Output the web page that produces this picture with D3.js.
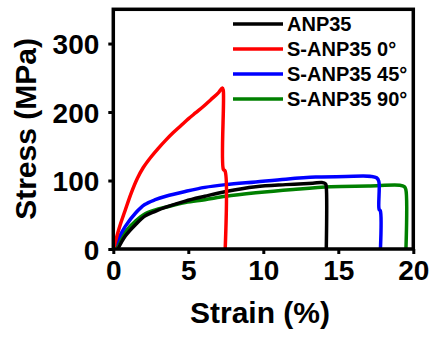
<!DOCTYPE html>
<html><head><meta charset="utf-8">
<script src="https://cdn.jsdelivr.net/npm/d3@7"></script>
<style>body{margin:0;background:#fff}svg{display:block}text{font-family:Arial,"Liberation Sans",sans-serif;font-weight:bold;fill:#000}</style>
</head><body><svg id="c" width="432" height="338"></svg>
<script>
const seriesNames = ["ANP35", "S-ANP35 0°", "S-ANP35 45°", "S-ANP35 90°"];
const seriesColors = ["#000000", "#ff0000", "#0000ff", "#008000"];
const xTicks = [0, 5, 10, 15, 20];
const yTicks = [0, 100, 200, 300];
// ANP35
const strainA = [0.3, 0.8, 1.5, 2.1, 2.8, 3.5, 4.8, 6.1, 7.5, 9.5, 11.5, 13.3, 13.9, 14.15, 14.2, 14.2];
const stressA = [0, 19, 36, 48, 55, 61, 70, 77, 84, 91, 94, 96, 97, 95, 90, 0];
// S-ANP35 0°
const strain0 = [0.05, 0.4, 0.8, 1.2, 1.6, 2.0, 2.5, 3.0, 3.5, 4.0, 4.5, 5.0, 5.5, 6.0, 6.5, 7.0, 7.27, 7.33, 7.34, 7.45, 7.46];
const stress0 = [3, 31, 57, 82, 103, 119, 134, 147, 159, 170, 180, 190, 199, 208, 218, 228, 235, 232, 116, 114, 0];
// S-ANP35 45°
const strain45 = [0.1, 0.8, 1.5, 2.1, 2.8, 3.5, 4.8, 6.1, 7.5, 9.5, 11.5, 13.5, 15.5, 17.2, 17.55, 17.7, 17.72, 17.8, 17.81];
const stress45 = [5, 33, 53, 65, 72, 77, 84, 90, 94, 98, 102, 105, 106, 106, 104, 99, 58, 56, 0];
// S-ANP35 90°
const strain90 = [0.1, 0.8, 1.5, 2.1, 2.8, 3.5, 4.8, 6.1, 7.5, 9.5, 12, 14.5, 17, 19.1, 19.4, 19.5, 19.51];
const stress90 = [3, 25, 41, 51, 57, 61, 68, 72, 77, 82, 87, 91, 92, 93, 91, 87, 0];

const seriesStrain = [strainA, strain0, strain45, strain90];
const seriesStress = [stressA, stress0, stress45, stress90];

const svg = d3.select("#c");
const x = d3.scaleLinear().domain([0, 20]).range([113.3, 413.3]);
const y = d3.scaleLinear().domain([0, 350]).range([249, 9.3]);

// curves
const line = d3.line().x(d => x(d[0])).y(d => y(d[1])).curve(d3.curveCatmullRom.alpha(0.5));
const drawOrder = [3, 0, 2, 1];
drawOrder.forEach(i => {
  const pts = seriesStrain[i].map((s, k) => [s, seriesStress[i][k]]);
  svg.append("path").attr("d", line(pts)).attr("fill", "none")
    .attr("stroke", seriesColors[i]).attr("stroke-width", 3.5)
    .attr("stroke-linejoin", "round");
});

// frame
svg.append("rect").attr("x", x(0)).attr("y", y(350)).attr("width", x(20) - x(0)).attr("height", y(0) - y(350))
  .attr("fill", "none").attr("stroke", "#000").attr("stroke-width", 3.5);

// axes
const xAxis = d3.axisBottom(x).tickValues(xTicks).tickSize(5).tickPadding(6).tickFormat(d3.format("d"));
const gx = svg.append("g").attr("transform", `translate(0,${y(0)})`).call(xAxis);
gx.select(".domain").remove();
gx.selectAll(".tick line").attr("stroke", "#000").attr("stroke-width", 3);
gx.selectAll(".tick text").attr("font-size", 28).attr("font-family", "Arial, Liberation Sans, sans-serif").attr("font-weight", "bold").attr("fill", "#000").attr("dy", "0.72em");

const yAxis = d3.axisLeft(y).tickValues(yTicks).tickSize(5).tickPadding(9).tickFormat(d3.format("d"));
const gy = svg.append("g").attr("transform", `translate(${x(0)},0)`).call(yAxis);
gy.select(".domain").remove();
gy.selectAll(".tick line").attr("stroke", "#000").attr("stroke-width", 3);
gy.selectAll(".tick text").attr("font-size", 28).attr("font-family", "Arial, Liberation Sans, sans-serif").attr("font-weight", "bold").attr("fill", "#000").attr("dy", "0.36em");

// titles
svg.append("text").attr("x", 260).attr("y", 323).attr("text-anchor", "middle").attr("font-size", 30).text("Strain (%)");
svg.append("text").attr("transform", "translate(36,129) rotate(-90)").attr("text-anchor", "middle").attr("font-size", 30).text("Stress (MPa)");

// legend
const lg = svg.append("g");
seriesNames.forEach((n, i) => {
  const ly = 24 + i * 25;
  lg.append("line").attr("x1", 233).attr("x2", 283).attr("y1", ly).attr("y2", ly)
    .attr("stroke", seriesColors[i]).attr("stroke-width", 3.5);
  lg.append("text").attr("x", 287).attr("y", ly).attr("dy", "0.36em").attr("font-size", 20).text(n);
});
</script></body></html>
